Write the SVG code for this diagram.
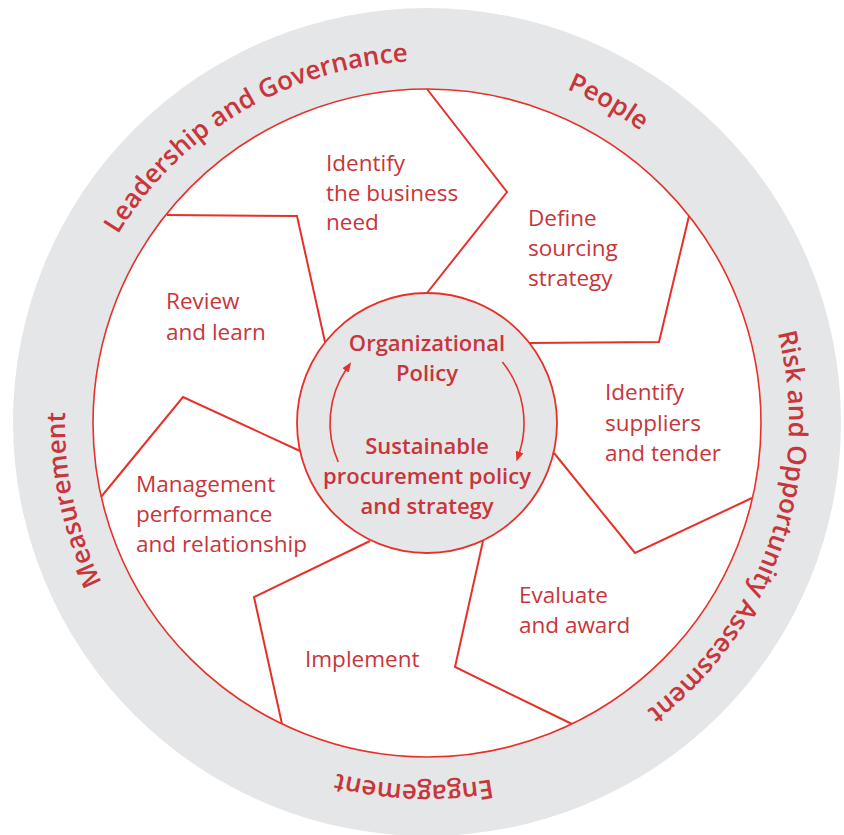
<svg xmlns="http://www.w3.org/2000/svg" xmlns:xlink="http://www.w3.org/1999/xlink" width="844" height="835" viewBox="0 0 844 835">
  <style>
    .ring { fill: #e5e6e8; }
    .disk-edge { fill: none; stroke: #e6312a; stroke-width: 1.6; }
    .hub { fill: #e5e6e8; stroke: #e6312a; stroke-width: 1.8; }
    .divider { fill: none; stroke: #e6312a; stroke-width: 2; stroke-linejoin: miter; }
    .cycle { fill: none; stroke: #e6312a; stroke-width: 1.6; }
    .step { font-family: "Open Sans", "Noto Sans", "Liberation Sans", sans-serif; font-size: 22.5px; fill: #c8353a; }
    .hubtext { font-family: "Open Sans", "Noto Sans", "Liberation Sans", sans-serif; font-size: 22px; font-weight: 600; fill: #c8353a; text-anchor: middle; }
    .theme { font-family: "Open Sans", "Noto Sans", "Liberation Sans", sans-serif; font-size: 26px; font-weight: 600; fill: #c8353a; }
  </style>
  <defs>
    <!-- clockwise baseline for the ring themes, starting at the top -->
    <path id="themePath" d="M 427 61 A 362 362 0 1 1 427 785 A 362 362 0 1 1 427 61"/>
    <marker id="arrowHead" viewBox="0 0 10 8" refX="2" refY="4" markerWidth="10" markerHeight="8" markerUnits="userSpaceOnUse" orient="auto">
      <path d="M0,0 L10,4 L0,8 z" fill="#e6312a"/>
    </marker>
  </defs>

  <!-- outer grey band and white working area -->
  <circle class="ring" cx="427" cy="422" r="414"/>
  <circle cx="427" cy="423" r="334" fill="#ffffff"/>

  <!-- borders between the process steps -->
  <g id="connectors">
    <polyline class="divider" points="427,89 507,192 427,293"/>
    <polyline class="divider" points="689,216 659,342 529,343"/>
    <polyline class="divider" points="554,453 635,553 752,498"/>
    <polyline class="divider" points="483,541 455,667 572,724"/>
    <polyline class="divider" points="370,541 254,597 282,724"/>
    <polyline class="divider" points="300,451 183,397 101,497"/>
    <polyline class="divider" points="167,215 297,216 325,342"/>
  </g>

  <circle class="disk-edge" cx="427" cy="423" r="334"/>

  <!-- ring themes -->
  <g id="themes">
    <text class="theme"><textPath xlink:href="#themePath" href="#themePath" startOffset="186" text-anchor="middle">People</textPath></text>
    <text class="theme"><textPath xlink:href="#themePath" href="#themePath" startOffset="689" text-anchor="middle">Risk and Opportunity Assessment</textPath></text>
    <text class="theme"><textPath xlink:href="#themePath" href="#themePath" startOffset="1150" text-anchor="middle">Engagement</textPath></text>
    <text class="theme"><textPath xlink:href="#themePath" href="#themePath" startOffset="1628" text-anchor="middle">Measurement</textPath></text>
    <text class="theme"><textPath xlink:href="#themePath" href="#themePath" startOffset="2079" text-anchor="middle">Leadership and Governance</textPath></text>
  </g>

  <!-- process steps -->
  <g id="step-identify-need">
    <text class="step" x="326" y="171">Identify<tspan x="326" dy="30">the business</tspan><tspan x="326" dy="29">need</tspan></text>
  </g>
  <g id="step-define-sourcing">
    <text class="step" x="528" y="226">Define<tspan x="528" dy="30">sourcing</tspan><tspan x="528" dy="30">strategy</tspan></text>
  </g>
  <g id="step-identify-suppliers">
    <text class="step" x="605" y="400">Identify<tspan x="605" dy="31">suppliers</tspan><tspan x="605" dy="30">and tender</tspan></text>
  </g>
  <g id="step-evaluate">
    <text class="step" x="519" y="603">Evaluate<tspan x="519" dy="30">and award</tspan></text>
  </g>
  <g id="step-implement">
    <text class="step" x="305" y="667">Implement</text>
  </g>
  <g id="step-management">
    <text class="step" x="136" y="492">Management<tspan x="136" dy="30">performance</tspan><tspan x="136" dy="30">and relationship</tspan></text>
  </g>
  <g id="step-review">
    <text class="step" x="166" y="309">Review<tspan x="166" dy="31">and learn</tspan></text>
  </g>

  <!-- central policy hub -->
  <g id="hub">
    <circle class="hub" cx="427" cy="423" r="130"/>
    <path class="cycle" d="M 338.2 462 A 97 97 0 0 1 346.6 368.8" marker-end="url(#arrowHead)"/>
    <path class="cycle" d="M 502.4 362 A 97 97 0 0 1 519 453.8" marker-end="url(#arrowHead)"/>
    <text class="hubtext" x="427" y="351">Organizational<tspan x="427" dy="30">Policy</tspan></text>
    <text class="hubtext" x="427" y="454">Sustainable<tspan x="427" dy="30">procurement policy</tspan><tspan x="427" dy="30">and strategy</tspan></text>
  </g>
</svg>
